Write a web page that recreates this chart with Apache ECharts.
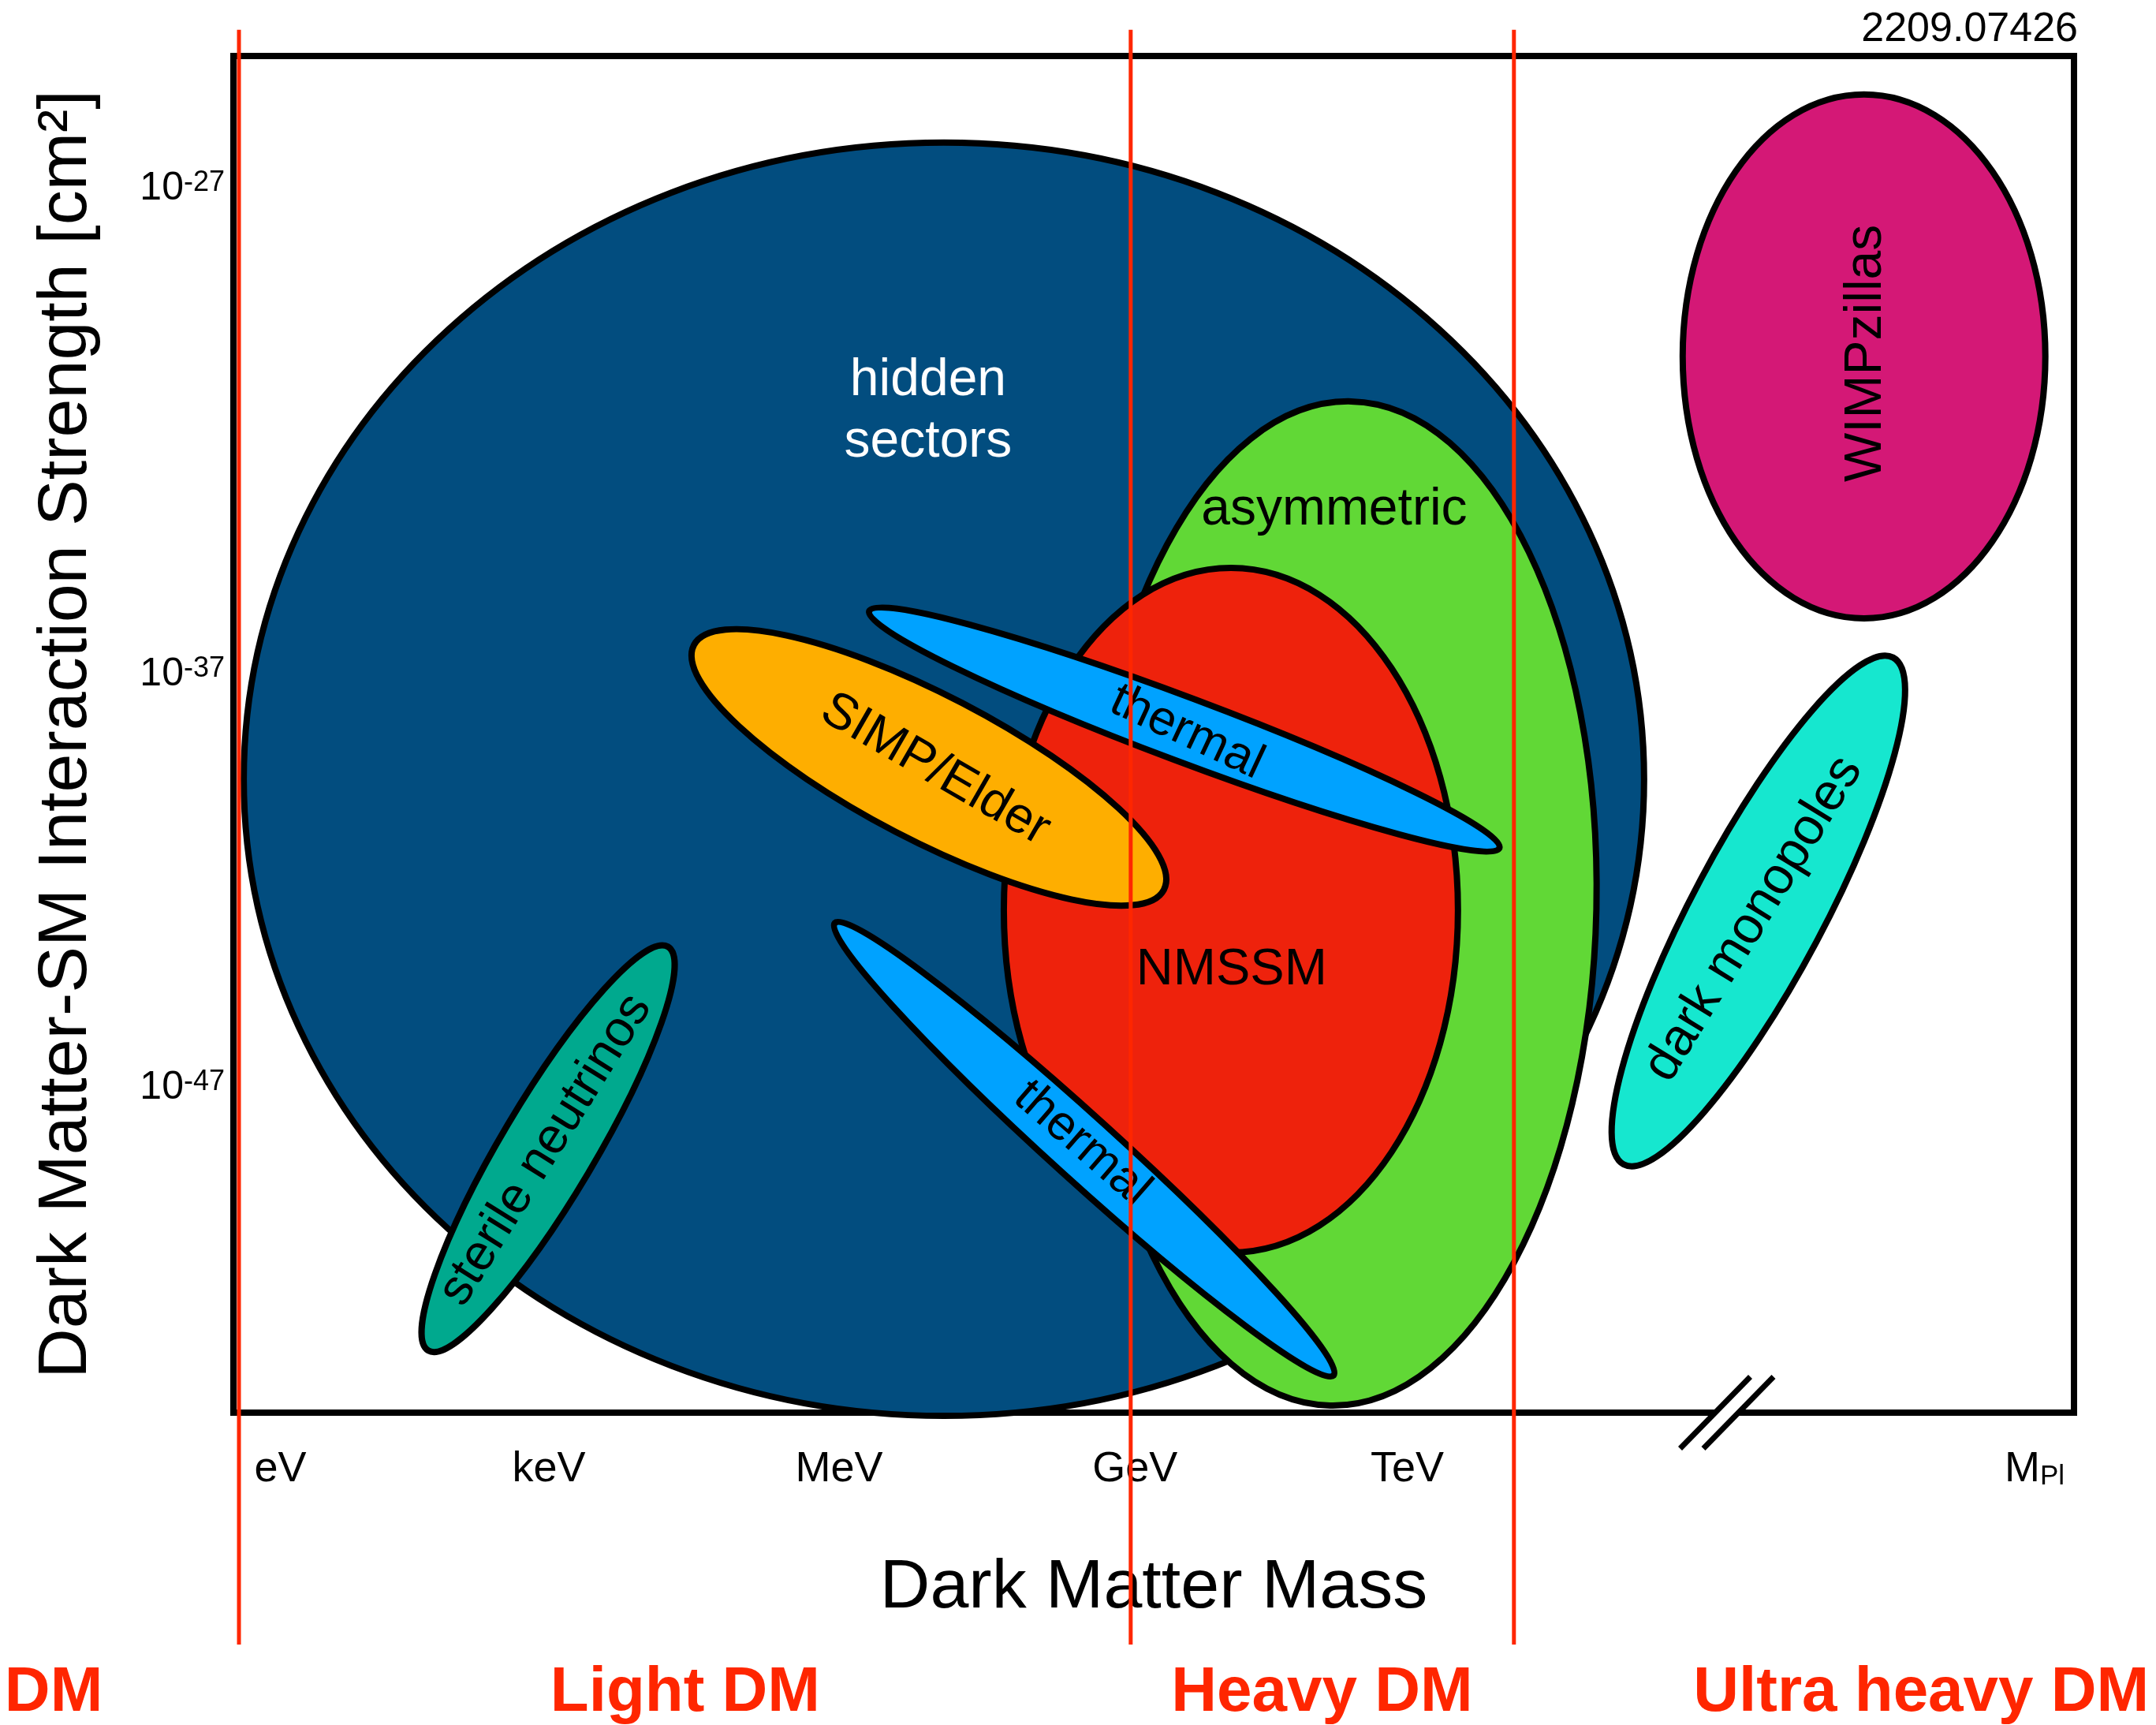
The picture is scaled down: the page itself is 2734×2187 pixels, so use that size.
<!DOCTYPE html>
<html>
<head>
<meta charset="utf-8">
<script src="https://cdn.jsdelivr.net/npm/echarts@6/dist/echarts.min.js"></script>
<style>
  html, body { margin: 0; padding: 0; background: #fff; }
  #chart { width: 2734px; height: 2187px; }
</style>
</head>
<body>
<div id="chart"></div>
<script>
// Schematic mass axis (decades) and where each mass scale sits on it
const massTickLabels = ['eV', 'keV', 'MeV', 'GeV', 'TeV', 'MPl'];
const massTickPos = [0, 2.86, 5.95, 9.1, 12.0, 18.68];

// Schematic interaction-strength axis and its decade labels (exponents of 10, cm^2)
const sigmaTickExp = ['-47', '-37', '-27'];
const sigmaTickPos = [3.46, 7.86, 13.03];

// Dark matter candidate regions: centre (mass, strength), semi-axes A (along tilt) and B, tilt in degrees
const regionNames = ['hidden\nsectors', 'asymmetric', 'NMSSM', 'SIMP/Elder', 'thermal', 'thermal',
  'sterile neutrinos', 'WIMPzillas', 'dark monopoles'];
const regionMass = [7.066, 11.290, 10.122, 6.906, 9.626, 8.560, 2.851, 16.864, 15.739];
const regionStrength = [6.742, 5.420, 5.348, 6.868, 7.271, 2.804, 2.810, 11.243, 5.340];
const regionRadiusA = [7.456, 2.725, 2.418, 2.821, 3.585, 3.585, 2.500, 1.931, 3.056];
const regionRadiusB = [6.776, 5.345, 3.644, 0.772, 0.340, 0.340, 0.500, 2.788, 0.700];
const regionTilt = [0, -1.2, 0, -27.5, -20.6, -42.2, 59.3, 0, 62];

// Mass regime boundaries and regime names
const regimeBoundaries = [-0.441, 9.055, 13.136];
const regimeNames = ['DM', 'Light DM', 'Heavy DM', 'Ultra heavy DM'];
const regimeCentres = [-2.414, 4.311, 11.092, 17.473];

// Position of the axis break between TeV and the Planck mass
const axisBreakMass = 15.403;

// ---- styling ----
const FONT = "'Liberation Sans', Arial, Helvetica, sans-serif";
const RED = '#ff2600';
const regionColors = ['#024d7f', '#61d836', '#ee220c', '#feae00', '#00a2ff', '#00a2ff',
  '#00a98e', '#d41876', '#16e7cf'];
// label anchor (in axis units), rotation and size for each region
const regionLabelStyle = [
  { x: 6.898, y: 10.655, angle: 0, size: 66, color: '#fff' },
  { x: 11.222, y: 9.605, angle: 0, size: 66, color: '#000' },
  { x: 10.130, y: 4.705, angle: 0, size: 65, color: '#000' },
  { x: 6.973, y: 6.843, angle: -30, size: 64, color: '#000' },
  { x: 9.652, y: 7.240, angle: -25, size: 62, color: '#000' },
  { x: 8.535, y: 2.863, angle: -41, size: 62, color: '#000' },
  { x: 2.826, y: 2.796, angle: 58, size: 64, color: '#000' },
  { x: 16.889, y: 11.276, angle: 90, size: 66, color: '#000' },
  { x: 15.690, y: 5.256, angle: 58.5, size: 66, color: '#000' }
];
const boundaryTop = 14.72, boundaryBottom = -2.468, regimeLabelY = -2.985;

const regionData = regionNames.map((n, i) =>
  [regionMass[i], regionStrength[i], regionRadiusA[i], regionRadiusB[i], regionTilt[i]]);

const chart = echarts.init(document.getElementById('chart'));

const option = {
  backgroundColor: '#fff',
  animation: false,
  grid: {
    left: 296, top: 71, width: 2334, height: 1720,
    show: true, borderColor: '#000', borderWidth: 8, backgroundColor: 'transparent',
    containLabel: false, outerBoundsMode: 'none'
  },
  graphic: [{
    type: 'text', right: 99, top: 12,
    style: { text: '2209.07426', fontSize: 52, fontFamily: FONT, fill: '#000' }
  }],
  xAxis: {
    type: 'value', min: -0.5, max: 19.1,
    axisLine: { show: false }, axisTick: { show: false }, splitLine: { show: false },
    name: 'Dark Matter Mass', nameLocation: 'middle', nameGap: 179,
    nameTextStyle: { fontSize: 88, fontFamily: FONT, color: '#000' },
    axisLabel: {
      customValues: massTickPos,
      margin: 45, fontSize: 54, fontFamily: FONT, color: '#000',
      formatter: function (v) {
        let k = massTickPos.findIndex(p => Math.abs(p - v) < 1e-6);
        const t = massTickLabels[k];
        if (t === 'MPl') return '{m|M}{p|Pl}';
        return t;
      },
      rich: {
        m: { fontSize: 54, fontFamily: FONT, color: '#000' },
        p: { fontSize: 35, fontFamily: FONT, color: '#000', verticalAlign: 'bottom' }
      }
    }
  },
  yAxis: {
    type: 'value', min: 0, max: 14.44,
    axisLine: { show: false }, axisTick: { show: false }, splitLine: { show: false },
    name: 'Dark Matter-SM Interaction Strength [cm²]', nameLocation: 'middle', nameGap: 167,
    nameRotate: 90,
    nameTextStyle: { fontSize: 88, fontFamily: FONT, color: '#000' },
    axisLabel: {
      customValues: sigmaTickPos,
      margin: 11,
      formatter: function (v) {
        let k = sigmaTickPos.findIndex(p => Math.abs(p - v) < 1e-6);
        return '{b|10}{s|' + sigmaTickExp[k] + '}';
      },
      rich: {
        b: { fontSize: 50, fontFamily: FONT, color: '#000' },
        s: { fontSize: 36, fontFamily: FONT, color: '#000', verticalAlign: 'top' }
      }
    }
  },
  series: [
    {
      // candidate regions
      type: 'custom', clip: false, z: 3,
      data: regionData,
      renderItem: function (params, api) {
        const i = params.dataIndex;
        const c = api.coord([api.value(0), api.value(1)]);
        const rx = api.size([api.value(2), 0])[0];
        const ry = api.size([0, api.value(3)])[1];
        const ls = regionLabelStyle[i];
        const lc = api.coord([ls.x, ls.y]);
        return {
          type: 'group',
          children: [
            {
              type: 'ellipse', x: c[0], y: c[1], rotation: api.value(4) * Math.PI / 180,
              shape: { cx: 0, cy: 0, rx: rx, ry: ry },
              style: { fill: regionColors[i], stroke: '#000', lineWidth: 8 }
            },
            {
              type: 'text', x: lc[0], y: lc[1], rotation: ls.angle * Math.PI / 180, z2: 10,
              style: {
                text: regionNames[i], fill: ls.color, fontSize: ls.size, fontFamily: FONT,
                align: 'center', verticalAlign: 'middle', lineHeight: 78
              }
            }
          ]
        };
      }
    },
    {
      // axis break mark on the mass axis
      type: 'custom', clip: false, z: 4,
      data: [[axisBreakMass, 0]],
      renderItem: function (params, api) {
        const c = api.coord([api.value(0), api.value(1)]);
        const hx = 44.5, hy = 45.5, off = 14.75;
        return {
          type: 'group', x: c[0], y: c[1],
          children: [
            {
              type: 'polygon',
              shape: { points: [[-off - hx, hy], [-off + hx, -hy], [off + hx, -hy], [off - hx, hy]] },
              style: { fill: '#fff' }
            },
            {
              type: 'line', shape: { x1: -off - hx, y1: hy, x2: -off + hx, y2: -hy },
              style: { stroke: '#000', lineWidth: 7 }
            },
            {
              type: 'line', shape: { x1: off - hx, y1: hy, x2: off + hx, y2: -hy },
              style: { stroke: '#000', lineWidth: 7 }
            }
          ]
        };
      }
    },
    {
      // mass regime boundaries
      type: 'custom', clip: false, z: 10,
      data: regimeBoundaries.map(x => [x]),
      renderItem: function (params, api) {
        const p1 = api.coord([api.value(0), boundaryTop]);
        const p2 = api.coord([api.value(0), boundaryBottom]);
        return {
          type: 'line', shape: { x1: p1[0], y1: p1[1], x2: p2[0], y2: p2[1] },
          style: { stroke: RED, lineWidth: 5 }
        };
      }
    },
    {
      // mass regime names
      type: 'custom', clip: false, z: 10,
      data: regimeCentres.map(x => [x]),
      renderItem: function (params, api) {
        const p = api.coord([api.value(0), regimeLabelY]);
        return {
          type: 'text', x: p[0], y: p[1],
          style: {
            text: regimeNames[params.dataIndex], fill: RED, fontSize: 80, fontWeight: 'bold',
            fontFamily: FONT, align: 'center', verticalAlign: 'middle'
          }
        };
      }
    }
  ]
};

chart.setOption(option);
</script>
</body>
</html>
